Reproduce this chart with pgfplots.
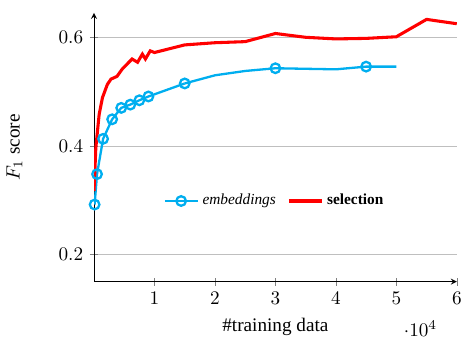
\documentclass[border=0pt]{standalone}
\usepackage{fontspec}
\setmainfont{Liberation Serif}
\usepackage{pgfplots}
\pgfplotsset{compat=1.18}
\definecolor{embblue}{RGB}{0,174,239}
\begin{document}
\begin{tikzpicture}
\begin{axis}[
  scale only axis,
  width=189pt, height=140pt,
  axis lines=left,
  xmin=0, xmax=60000,
  ymin=0.15, ymax=0.645,
  xtick={10000,20000,30000,40000,50000,60000},
  ytick={0.2,0.4,0.6},
  ymajorgrids,
  grid style={gray!50, line width=0.4pt},
  xlabel={\#training data},
  ylabel={$F_1$ score},
  ylabel shift=12pt,
  label style={font=\normalsize},
  tick label style={font=\normalsize},
  legend style={draw=none, fill=none, font=\footnotesize, at={(0.5,0.3)}, anchor=center, legend columns=2, /tikz/every even column/.append style={column sep=4pt}},
  legend cell align=left,
]
\addplot[embblue, line width=1.2pt, mark=o, mark size=2.5pt, mark options={line width=1.2pt}] coordinates {
(100,0.292) (500,0.348) (1500,0.413) (3000,0.449) (4500,0.470) (6000,0.476) (7500,0.484) (9000,0.491) (15000,0.515)
};
\addplot[embblue, line width=1.2pt, mark=none, forget plot] coordinates {
(15000,0.515) (20000,0.530) (25000,0.538) (30000,0.543) (40000,0.541) (45000,0.546) (50000,0.546)
};
\addplot[embblue, line width=1.2pt, only marks, mark=o, mark size=2.5pt, mark options={line width=1.2pt}, forget plot] coordinates {
(30000,0.543) (45000,0.546)
};
\addlegendentry{\textit{embeddings}}
\addplot[red, line width=1.6pt, mark=none] coordinates {
(0,0.317) (300,0.397) (850,0.458) (1400,0.489) (2200,0.513) (2800,0.523) (3400,0.526) (3800,0.528) (4700,0.542) (5500,0.551) (6300,0.560) (7200,0.554) (8000,0.569) (8500,0.560) (9300,0.575) (10000,0.572) (15000,0.586) (20000,0.590) (25000,0.592) (30000,0.607) (35000,0.600) (40000,0.597) (45000,0.598) (50000,0.601) (55000,0.633) (60000,0.625)
};
\addlegendentry{\textbf{selection}}
\end{axis}
\path ([yshift=6.5pt]current bounding box.north);
\end{tikzpicture}
\end{document}
